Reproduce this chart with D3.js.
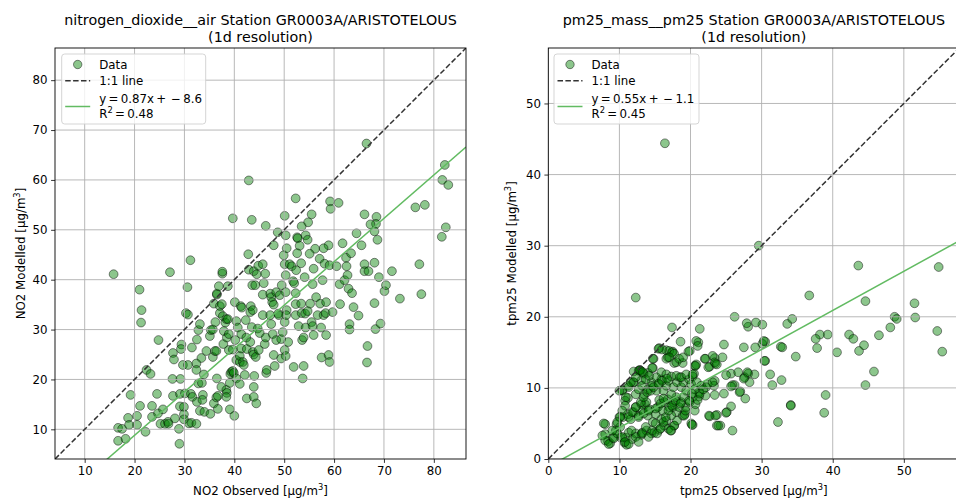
<!DOCTYPE html>
<html><head><meta charset="utf-8">
<script src="https://cdn.jsdelivr.net/npm/d3@7"></script>
<style>
body{margin:0;background:#fff}
svg{display:block;font-family:"DejaVu Sans",sans-serif}
</style>
</head><body>
<svg id="chart" width="956" height="499"></svg>
<script>
// ---------- data ----------
const titlesNO2 = ["nitrogen_dioxide__air Station GR0003A/ARISTOTELOUS", "(1d resolution)"];
const titlesPM = ["pm25_mass__pm25 Station GR0003A/ARISTOTELOUS", "(1d resolution)"];
const no2Ticks = [10, 20, 30, 40, 50, 60, 70, 80];
const pmTicks = [0, 10, 20, 30, 40, 50];
const no2Domain = [4.05, 86.45];
const pmDomain = [0, 57.8];
const fitSlope = [0.87, 0.55];
const fitIntercept = [-8.6, -1.1];
const fitR2 = [0.48, 0.45];

// NO2: [observed, modelled]
const no2Data = [
[66.5,67.3],[42.9,59.9],[82.2,63.0],[81.7,60.0],[82.9,59.0],[76.3,54.5],[78.2,55.0],[82.4,50.5],[81.6,48.6],
[39.7,52.3],[43.5,52.0],[46.3,50.8],[52.3,56.3],[50.1,52.8],[59.2,55.7],[59.3,54.2],[60.9,55.4],[55.5,53.1],
[54.8,51.5],[53.5,50.7],[66.1,53.1],[68.5,52.6],[68.4,51.2],[67.3,51.1],[68.1,49.7],[68.7,48.0],[64.5,49.3],
[65.5,46.9],[61.7,47.3],[58.9,46.9],[48.7,49.5],[50.3,48.9],[52.6,48.5],[52.7,48.3],[54.3,48.9],[54.7,48.0],
[47.9,46.9],[50.5,46.3],[53.1,46.8],[56.2,46.2],[57.9,46.3],
[15.8,41.1],[21.0,38.0],[21.4,33.9],[21.3,31.4],[27.1,41.5],[31.2,43.9],[30.6,38.5],[30.3,33.3],[30.7,33.0],
[24.8,27.9],[22.4,21.9],[23.2,21.1],[19.2,16.9],[16.7,10.3],[17.5,10.1],[16.7,7.7],[18.2,8.1],[18.7,12.3],
[18.9,10.9],[20.5,12.7],[20.5,10.9],[21.1,14.7],[22.2,9.5],[23.5,14.7],[23.5,12.5],[24.5,17.1],[24.7,13.2],
[25.7,14.0],[25.2,11.1],[26.1,11.1],[26.7,11.5],[26.8,11.1],[27.7,25.3],[27.9,24.0],[27.6,20.1],[27.7,16.7],
[28.1,12.2],[28.9,10.1],[29.1,14.6],[29.1,17.1],[29.2,20.1],[29.4,27.0],[29.3,26.1],[29.7,22.9],[29.9,14.5],
[29.9,13.0],[29.9,12.0],[29.0,7.1],[30.1,17.2],[30.7,22.9],[31.3,17.1],[30.9,11.2],[31.4,11.3],[32.4,11.1],
[31.5,26.4],[32.8,29.9],[32.5,28.0],[32.4,23.2],[32.4,21.9],[32.8,19.2],[31.6,16.5],[32.5,15.5],[33.1,13.7],
[33.1,31.1],[33.4,24.3],[33.5,19.3],[33.7,16.9],[33.6,15.9],[33.9,21.0],[34.0,13.5],[34.4,25.7],[35.2,13.1],
[35.1,28.7],[35.3,29.9],[35.7,24.5],[35.7,30.0],[36.2,31.5],[35.9,35.2],[35.9,15.2],[36.1,25.7],[36.4,25.7],
[36.4,16.4],[36.5,20.2],[36.7,14.1],[36.7,16.7],[36.5,37.0],[36.5,37.2],[36.9,38.7],[37.1,34.7],[37.5,35.1],
[37.1,33.3],[37.7,32.7],[37.4,18.5],[37.6,41.2],[37.6,41.6],[37.8,27.1],[38.2,31.4],[37.9,29.7],[38.4,32.1],
[38.5,28.4],[38.7,32.1],[38.9,29.1],[38.4,17.9],[38.5,17.3],[38.4,16.5],[38.9,25.9],[39.1,19.3],[39.2,21.1],
[38.7,38.7],[39.1,14.0],[39.4,21.5],[39.7,21.7],[40.0,12.7],[40.1,35.5],[39.7,26.0],[39.9,21.3],[40.4,20.2],
[40.4,31.7],[40.7,30.4],[40.2,27.9],[40.4,23.9],[41.1,19.1],[41.1,23.5],[41.1,24.7],[41.3,34.7],[41.5,34.4],
[41.4,29.1],[41.4,26.2],[41.7,23.5],[41.9,22.9],[42.1,20.9],[42.3,31.9],[42.4,28.4],[42.5,16.2],[42.5,26.1],
[42.8,45.1],[42.9,42.0],[43.2,27.5],[43.2,33.5],[43.3,34.7],[43.5,30.5],[43.6,38.9],[43.9,41.7],[43.7,33.9],[43.7,25.5],
[43.9,25.0],[43.9,18.5],[43.9,16.5],[44.0,20.7],[44.2,38.9],[44.3,24.5],[44.4,15.2],[44.5,41.1],[44.7,30.2],
[44.8,42.8],[44.9,25.9],[45.1,29.3],[45.7,43.1],[45.9,39.3],[46.2,41.2],[45.7,37.0],[45.7,32.9],[46.1,27.1],
[46.4,21.3],[46.5,21.9],[46.3,28.4],[47.2,37.2],[47.4,36.5],[47.2,32.9],[47.4,31.1],[47.6,35.5],[47.7,29.1],
[47.9,24.9],[47.9,35.0],[48.1,22.7],[48.4,27.9],[48.4,37.5],[48.8,33.2],[49.1,36.9],[48.9,32.9],[49.4,28.1],
[49.5,38.9],[49.4,24.2],[49.7,29.5],[49.9,44.9],[50.1,43.1],[50.3,40.9],[50.3,37.5],[50.1,31.5],[50.1,25.9],
[50.3,24.7],[50.5,33.9],[50.8,27.5],[50.4,32.9],[51.1,43.1],[51.5,42.7],[51.8,39.7],[51.9,22.5],[52.0,39.3],
[52.3,32.9],[52.3,37.3],[52.3,35.1],[52.4,41.9],[52.6,45.3],[52.9,30.7],[53.4,43.3],[53.4,35.2],[53.5,33.3],
[53.6,27.9],[53.7,20.2],[53.9,22.7],[54.1,40.5],[53.9,28.4],[54.3,30.4],[54.2,33.2],[54.7,33.7],[55.1,45.2],
[55.2,35.2],[55.5,31.5],[55.7,30.7],[55.9,28.9],[55.7,39.1],[55.9,42.2],[56.4,36.5],[56.7,32.9],[57.1,44.2],
[57.2,35.2],[57.5,24.4],[57.4,30.4],[57.9,32.9],[57.7,39.9],[58.1,43.2],[58.3,33.3],[58.4,35.5],[58.4,28.9],
[58.9,24.9],[59.1,23.5],[59.1,42.9],[59.7,33.5],[60.5,42.7],[61.1,39.1],[61.2,35.1],[62.1,39.9],[62.4,44.4],
[62.5,42.7],[62.7,40.9],[62.9,38.2],[63.1,31.1],[63.1,30.0],[63.4,45.3],[63.6,37.3],[63.9,34.5],[64.9,32.8],
[66.1,43.1],[66.1,41.7],[66.9,41.7],[66.7,26.7],[66.6,23.4],[68.1,43.4],[68.1,35.3],[68.3,30.1],[69.0,40.5],
[69.3,31.2],[70.1,37.7],[70.4,38.9],[71.6,41.7],[73.2,36.2],[77.1,43.1],[77.5,37.1]
];

// PM2.5: [observed, modelled]
const pm25Data = [
[16.4,44.4],[29.6,30.0],[12.3,22.7],[54.9,27.0],[43.6,27.2],[36.7,23.0],[44.6,22.2],[51.5,21.9],[51.6,19.9],
[48.7,20.0],[49.0,19.7],[48.1,18.5],[46.5,17.4],[54.7,18.0],[55.4,15.1],[45.8,12.3],[44.6,10.4],[42.3,17.5],
[42.9,16.9],[43.7,15.2],[44.4,16.0],[40.6,15.0],[39.3,17.5],[38.2,17.5],[37.6,16.9],[37.8,15.6],[39.0,9.0],
[38.8,6.5],[34.1,7.6],[32.3,5.2],[34.8,14.4],[33.6,19.0],[34.3,19.7],[32.7,15.8],[32.9,15.7],[32.8,11.1],
[31.5,10.4],[31.2,11.9],[30.5,13.8],[30.5,16.5],[30.1,16.2],[30.1,18.9],[29.2,19.2],[29.1,15.7],[29.0,11.9],
[28.3,10.8],[28.1,12.0],[28.1,18.6],[27.9,19.1],[27.5,15.7],[27.6,11.5],[28.0,12.2],[27.7,8.5],[27.0,9.5],
[26.2,20.0],[26.2,10.4],[25.7,12.0],[25.0,11.8],[25.9,10.4],[25.7,7.4],[25.1,6.6],[25.0,6.5],[25.9,4.0],
[24.2,4.7],[23.7,6.2],[22.7,6.0],[24.7,16.1],[24.5,14.3],[24.7,9.2],[23.4,14.2],[23.1,14.5],[23.5,13.4],
[22.7,13.0],[22.0,14.1],[23.4,11.0],[23.3,10.3],[23.4,9.0],[22.2,10.1],[22.1,8.9],[21.3,18.3],[21.1,16.4],
[20.8,16.6],[21.0,15.9],[20.6,13.1],[20.8,13.3],[21.2,9.4],[21.2,8.8],[20.3,4.8],[20.6,6.8],[19.9,15.2],
[18.6,16.5],[17.4,18.5],[17.7,13.5],[17.5,15.1],[16.8,14.3],[16.6,15.3],[15.6,15.6],[15.5,15.5],[14.8,14.1],
[14.7,12.8],[13.0,12.4],[12.8,12.5],[11.95,10.8],[10.4,9.6],[11.2,10.3],
[17.0,15.2],[17.4,15.0],[17.7,14.8],[16.6,14.1],[17.0,14.3],[18.0,13.6],[18.9,13.5],[19.7,15.1],[14.7,14.1],
[12.7,12.4],[14.0,12.1],[13.4,12.0],[13.1,11.1],[12.0,10.8],[10.4,9.7],[11.2,8.6],[10.8,8.2],[22.1,14.1],
[22.5,12.9],[23.4,13.6],[23.7,13.3],[20.7,13.1],[20.5,12.0],[22.6,6.1],[23.5,6.1],[23.7,4.7],[20.1,5.0],
[16.9,4.25],[17.7,4.7],
[8.0,4.9],[8.0,3.5],[8.4,2.5],[8.7,2.2],[9.1,3.0],[9.5,4.0],[9.6,4.9],[10.0,5.9],[10.2,3.0],[10.7,2.3],
[11.0,2.0],[10.9,3.0],[11.3,3.7],[11.8,2.8],[12.3,3.6],[13.1,3.4],[13.2,3.7],[13.8,4.0],[14.5,3.6],[14.9,3.7],
[15.6,4.1],[16.3,4.7],[16.6,5.4],[17.3,4.0],[18.0,6.6],[17.5,7.3],[18.9,6.1],[19.2,6.3],[20.2,4.8],
[10.5,5.9],[11.2,6.3],[11.6,5.6],[12.0,6.6],[12.3,7.3],[12.7,6.1],[13.1,7.7],[13.3,6.8],[13.6,7.7],[13.8,8.0],
[14.0,6.1],[14.2,7.0],[14.7,5.2],[15.1,6.3],[15.4,7.3],[15.6,8.3],[15.9,5.6],[16.1,6.8],[16.3,8.0],[16.8,8.4],
[17.0,7.3],[17.3,6.1],[17.6,8.0],[18.0,8.7],[18.4,7.3],[18.7,8.0],[19.0,8.7],[19.4,7.3],[19.9,8.0],[20.3,8.7],
[20.7,7.7],[21.0,8.3],[21.3,9.2],
[10.0,9.6],[10.9,8.7],[11.3,10.1],[12.3,9.1],[12.7,9.8],[13.2,10.3],[13.5,9.1],[14.0,9.8],[14.5,10.8],[14.6,10.3],
[15.2,9.6],[15.6,10.5],[15.9,11.2],[16.2,9.6],[16.6,10.3],[16.9,11.0],[17.3,9.1],[17.6,10.1],[18.1,10.8],[18.5,11.5],
[18.7,10.1],[19.0,10.8],[19.4,9.6],[19.8,11.2],[20.1,10.5],[20.3,11.6],[20.6,9.8],[20.9,10.8],[21.5,10.3],[21.8,9.8],
[22.4,10.5],[23.1,10.8],
[12.0,12.3],[12.9,12.5],[13.3,12.2],[14.6,12.8],[16.0,15.4],[18.4,14.1],[18.96,14.3],[11.6,10.8],[12.3,11.5],
[13.7,11.2],[14.2,11.7],[15.2,11.5],[15.9,12.2],[16.6,11.9],[17.3,11.6],[18.0,11.7],[18.7,11.5],[19.4,11.9],
[20.3,11.9],[30.3,16.6],[30.4,13.8],[26.7,12.2],[27.5,11.3],[25.7,10.2],[26.9,9.4],[23.9,4.7],[34.1,7.5],
[7.8,5.0],[7.6,3.3],[8.0,2.6],[8.5,2.1],[9.2,2.9],[9.7,3.6],[10.1,4.5],[10.4,3.1],[10.8,2.4],[11.3,2.1],
[11.7,4.0],[12.3,3.1],[12.7,2.4],[13.2,3.6],[13.7,4.5],[14.1,3.1],[14.6,4.0],[15.1,5.0],[15.3,3.6],[15.8,4.3],
[16.2,5.2],[16.5,5.9],[16.9,6.8],[17.4,7.5],[17.9,8.2],[18.6,7.8],[19.1,6.1],[19.3,6.8],[19.8,8.2],[20.2,9.2],
[17.7,4.7],[17.2,4.0],[18.1,5.4],[11.3,5.9],[11.8,6.6],[12.3,7.3],[13.0,8.0],[13.4,8.7],[13.9,9.4],[14.4,9.6],
[14.8,10.1],[15.5,10.6],[16.0,11.0],[16.7,11.3],[12.7,5.9],[13.4,6.4],[14.1,6.8],[15.1,7.1],[15.8,7.8],[16.2,8.5],
[10.8,7.5],[10.4,6.8],[10.1,5.9],[9.7,5.2],[9.0,4.0]
];

// ---------- drawing ----------
const svg = d3.select("#chart");
const FS = 11.8;
const plotTop = 48, plotBottom = 459, plotSize = 411;

function panel(cfg) {
  const x = d3.scaleLinear().domain(cfg.domain).range([cfg.left, cfg.left + plotSize]);
  const y = d3.scaleLinear().domain(cfg.domain).range([plotBottom, plotTop]);
  const g = svg.append("g");
  const clipId = "clip" + cfg.id;
  g.append("clipPath").attr("id", clipId).append("rect")
    .attr("x", cfg.left).attr("y", plotTop).attr("width", plotSize).attr("height", plotSize);
  const plot = g.append("g").attr("clip-path", `url(#${clipId})`);

  plot.append("g").selectAll("circle").data(cfg.data).join("circle")
    .attr("cx", d => x(d[0])).attr("cy", d => y(d[1])).attr("r", 4.4)
    .attr("fill", "green").attr("fill-opacity", 0.45)
    .attr("stroke", "black").attr("stroke-opacity", 0.5).attr("stroke-width", 0.9);

  plot.append("g").selectAll("line").data(cfg.ticks).join("line")
    .attr("x1", d => x(d)).attr("x2", d => x(d)).attr("y1", plotTop).attr("y2", plotBottom)
    .attr("stroke", "#b0b0b0").attr("stroke-width", 0.9);
  plot.append("g").selectAll("line").data(cfg.ticks).join("line")
    .attr("y1", d => y(d)).attr("y2", d => y(d)).attr("x1", cfg.left).attr("x2", cfg.left + plotSize)
    .attr("stroke", "#b0b0b0").attr("stroke-width", 0.9);

  plot.append("line")
    .attr("x1", x(cfg.domain[0])).attr("y1", y(cfg.domain[0]))
    .attr("x2", x(cfg.domain[1])).attr("y2", y(cfg.domain[1]))
    .attr("stroke", "#333").attr("stroke-width", 1.5).attr("stroke-dasharray", "5.5,2.4");

  const fx = [cfg.domain[0], cfg.domain[1]];
  plot.append("path")
    .attr("d", d3.line().x(d => x(d)).y(d => y(cfg.slope * d + cfg.intercept))(fx))
    .attr("fill", "none").attr("stroke", "#62bb62").attr("stroke-width", 1.5);

  const ax = g.append("g").attr("transform", `translate(0,${plotBottom})`)
    .call(d3.axisBottom(x).tickValues(cfg.ticks).tickSize(3.9).tickPadding(3.5).tickFormat(d3.format("d")));
  const ay = g.append("g").attr("transform", `translate(${cfg.left},0)`)
    .call(d3.axisLeft(y).tickValues(cfg.ticks).tickSize(3.9).tickPadding(3.5).tickFormat(d3.format("d")));
  [ax, ay].forEach(a => {
    a.select(".domain").remove();
    a.selectAll("text").attr("font-size", FS).attr("font-family", "DejaVu Sans").attr("fill", "#000");
    a.selectAll("line").attr("stroke", "#000").attr("stroke-width", 0.8);
  });

  g.append("rect").attr("x", cfg.left).attr("y", plotTop).attr("width", plotSize).attr("height", plotSize)
    .attr("fill", "none").attr("stroke", "#000").attr("stroke-width", 0.9);

  const cx = cfg.left + plotSize / 2;
  g.append("text").attr("x", cx).attr("y", 25).attr("text-anchor", "middle")
    .attr("font-size", 14.3).text(cfg.title[0]);
  g.append("text").attr("x", cx).attr("y", 41.5).attr("text-anchor", "middle")
    .attr("font-size", 14.3).text(cfg.title[1]);

  const xl = g.append("text").attr("x", cx).attr("y", 494.5).attr("text-anchor", "middle").attr("font-size", FS);
  xl.append("tspan").text(cfg.xlabel + " [μg/m");
  xl.append("tspan").attr("font-size", 8.3).attr("dy", -4.8).text("3");
  xl.append("tspan").attr("dy", 4.8).text("]");
  const yl = g.append("text").attr("transform", `translate(${cfg.ylabX},${(plotTop + plotBottom) / 2}) rotate(-90)`)
    .attr("text-anchor", "middle").attr("font-size", FS);
  yl.append("tspan").text(cfg.ylabel + " [μg/m");
  yl.append("tspan").attr("font-size", 8.3).attr("dy", -4.8).text("3");
  yl.append("tspan").attr("dy", 4.8).text("]");

  const lx = cfg.left + cfg.legDx, ly = 54;
  const L = g.append("g");
  L.append("rect").attr("x", lx).attr("y", ly).attr("width", cfg.legW).attr("height", 70)
    .attr("rx", 3).attr("fill", "white").attr("fill-opacity", 0.8)
    .attr("stroke", "#d0d0d0").attr("stroke-width", 0.9);
  const hx0 = lx + 3.5, hx1 = lx + 28.5, tx = lx + 37.5;
  L.append("circle").attr("cx", (hx0 + hx1) / 2).attr("cy", 64.5).attr("r", 4.2)
    .attr("fill", "green").attr("fill-opacity", 0.45)
    .attr("stroke", "black").attr("stroke-opacity", 0.5).attr("stroke-width", 0.9);
  L.append("text").attr("x", tx).attr("y", 68.7).attr("font-size", FS).text("Data");
  L.append("line").attr("x1", hx0).attr("x2", hx1).attr("y1", 80.8).attr("y2", 80.8)
    .attr("stroke", "#333").attr("stroke-width", 1.5).attr("stroke-dasharray", "5.5,2.4");
  L.append("text").attr("x", tx).attr("y", 85).attr("font-size", FS).text("1:1 line");
  L.append("line").attr("x1", hx0).attr("x2", hx1).attr("y1", 106.5).attr("y2", 106.5)
    .attr("stroke", "#62bb62").attr("stroke-width", 1.5);
  const sign = cfg.intercept < 0 ? "\u2212" : "";
  L.append("text").attr("x", tx).attr("y", 103.2).attr("font-size", FS)
    .text(`y\u2009=\u2009${cfg.slope.toFixed(2)}x\u2009+\u2009\u2009${sign}\u2009${Math.abs(cfg.intercept).toFixed(1)}`);
  const r2 = L.append("text").attr("x", tx).attr("y", 117.5).attr("font-size", FS);
  r2.append("tspan").text("R");
  r2.append("tspan").attr("font-size", 8.3).attr("dy", -4.8).text("2");
  r2.append("tspan").attr("dy", 4.8).text("\u2009=\u2009" + cfg.r2.toFixed(2));
}

panel({id: 1, left: 55, domain: no2Domain, ticks: no2Ticks, data: no2Data,
  slope: fitSlope[0], intercept: fitIntercept[0], r2: fitR2[0], title: titlesNO2,
  xlabel: "NO2 Observed", ylabel: "NO2 Modelled", ylabX: 24.5, legDx: 6.7, legW: 144});
panel({id: 2, left: 548.3, domain: pmDomain, ticks: pmTicks, data: pm25Data,
  slope: fitSlope[1], intercept: fitIntercept[1], r2: fitR2[1], title: titlesPM,
  xlabel: "tpm25 Observed", ylabel: "tpm25 Modelled", ylabX: 516, legDx: 5.7, legW: 145});
</script>
</body></html>
